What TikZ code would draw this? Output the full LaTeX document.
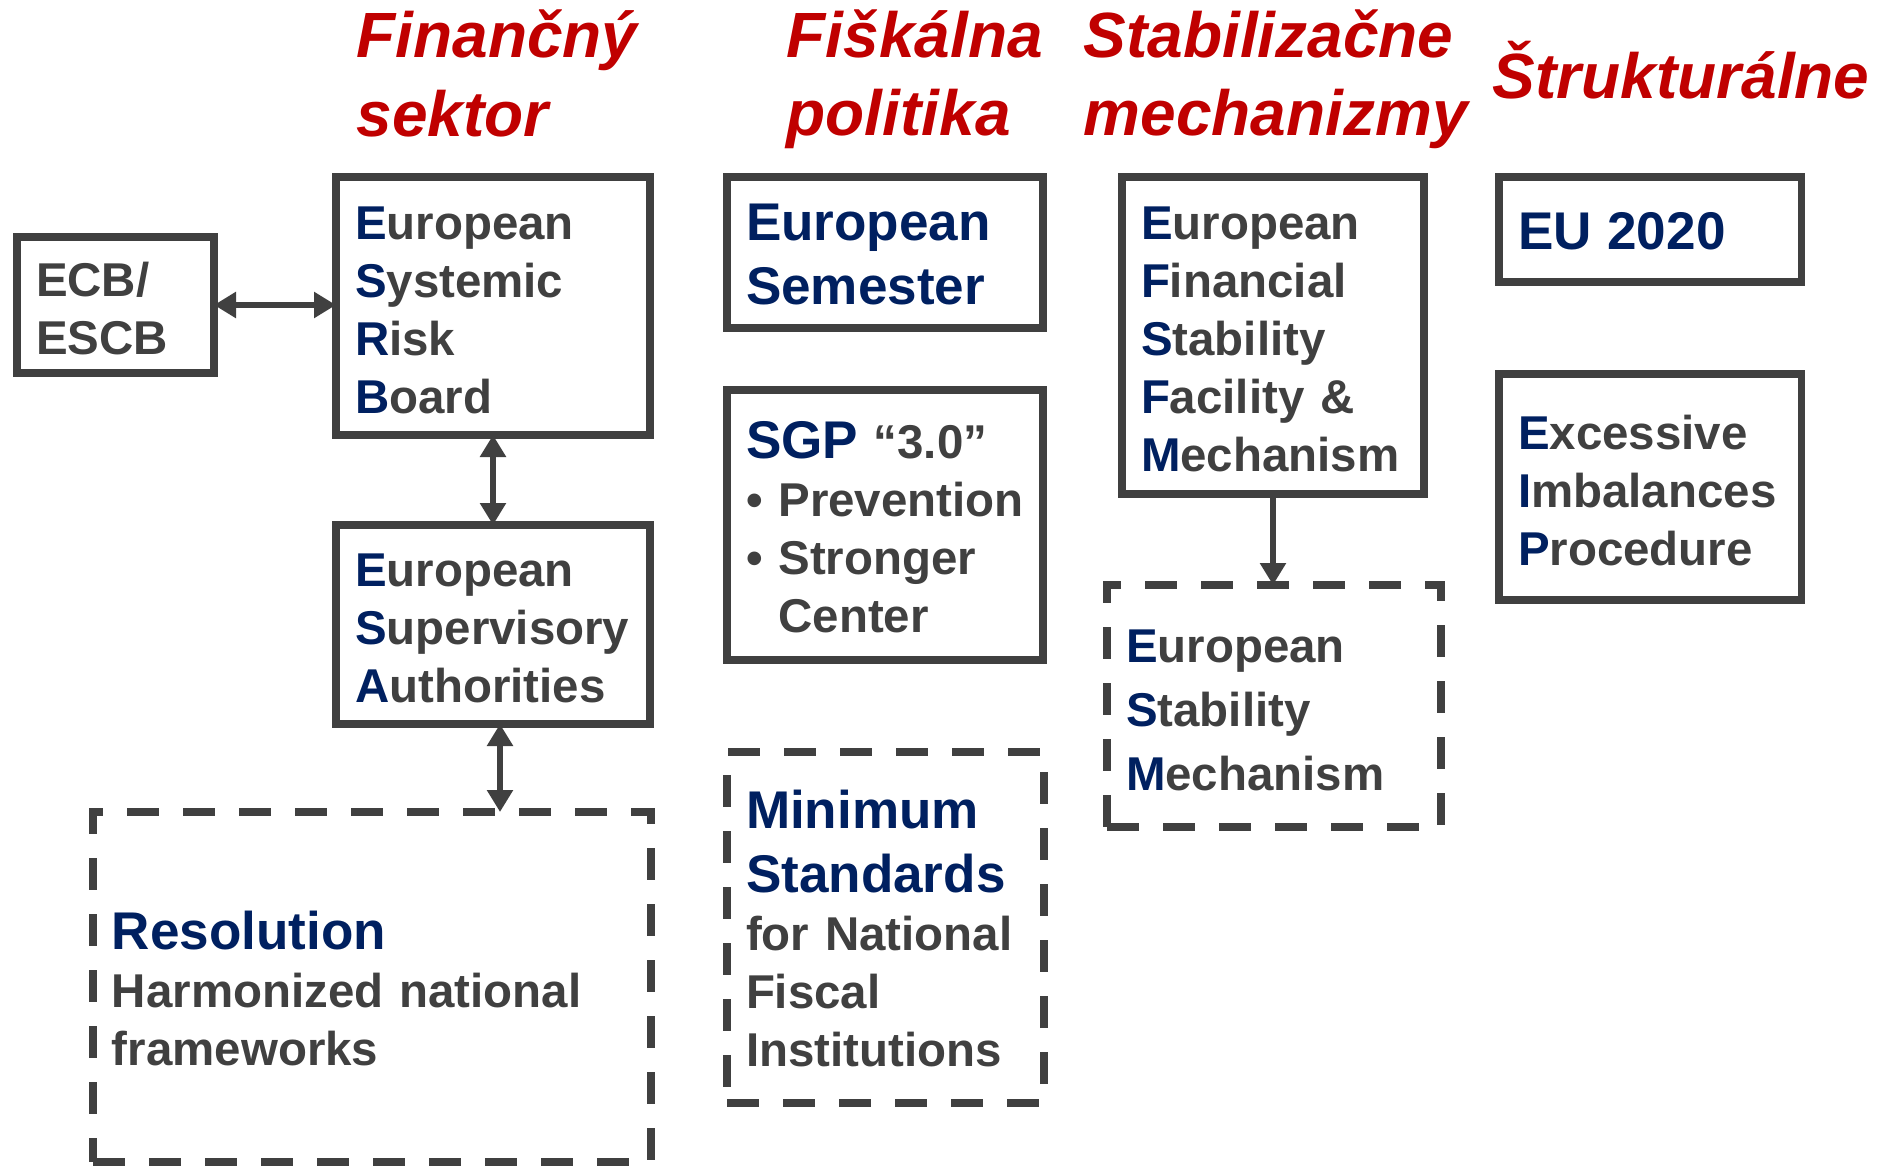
\documentclass[tikz,border=0pt]{standalone}
\usepackage{fontspec}
\setmainfont{Liberation Sans}
\usepackage{tikz}
\usetikzlibrary{arrows.meta,positioning}
\definecolor{dgray}{RGB}{64,64,64}
\definecolor{navy}{RGB}{0,32,96}
\definecolor{tred}{RGB}{192,0,0}
\newcommand{\ini}[1]{{\color{navy}#1}}
\newcommand{\hd}{\fontsize{15.1}{18.2}\selectfont\color{navy}}
\newcommand{\nm}{\fontsize{13.5}{16.5}\selectfont\color{dgray}}

\begin{document}
\begin{tikzpicture}[
box/.style 2 args={draw=dgray,line width=2pt,anchor=north west,outer sep=0pt,inner xsep=0.19cm,inner ysep=0pt,
  minimum width=#1cm,minimum height=#2cm,text width=#1cm-0.38cm,align=left,text=dgray,font=\nm\bfseries,
  execute at begin node={\rule{0pt}{11.7pt}}},
dbox/.style 2 args={box={#1}{#2},dash pattern=on 0.32cm off 0.24cm},
title/.style={anchor=base west,inner sep=0pt,text width=4cm,align=left,text=tred,
  font=\fontsize{18.2}{22.2}\selectfont\bfseries\itshape},
>={Triangle[length=0.22cm,width=0.25cm]},
twoway/.style={<->,draw=dgray,line width=1.7pt},
oneway/.style={->,draw=dgray,line width=1.7pt}]
    \useasboundingbox (0,0) rectangle (18.9,-11.66);

    % Column titles
    \node[title] (tfin) at (3.56,-0.58) {Finančný\\sektor};
    \node[title] (tfis) at (7.86,-0.57) {Fiškálna\\politika};
    \node[title] (tstab) at (10.83,-0.57) {Stabilizačne\\mechanizmy};
    \node[title] (tstr) at (14.92,-0.98) {Štrukturálne};

    % Financial sector
    \node[box={1.97}{1.36}] (ecb) at (0.17,-2.37) {ECB/\\ESCB};
    \node[box={3.14}{2.58}] (esrb) at (3.36,-1.77) {\ini{E}uropean\\\ini{S}ystemic\\\ini{R}isk\\\ini{B}oard};
    \node[box={3.14}{1.99}] (esa) at (3.36,-5.25) {\ini{E}uropean\\\ini{S}upervisory\\\ini{A}uthorities};
    \node[dbox={5.58}{3.50}] (res) at (0.93,-8.12) {\hd Resolution\\\nm Harmonized national\\frameworks};

    % Fiscal policy
    \node[box={3.16}{1.51}] (sem) at (7.27,-1.77) {\hd European\\\hd Semester\par};
    \node[box={3.16}{2.70}] (sgp) at (7.27,-3.90) {{\hd SGP} “3.0”\\\textbullet\ Prevention\\\textbullet\ Stronger\\\phantom{\textbullet\ }Center};
    \node[dbox={3.17}{3.51}] (mins) at (7.27,-7.52) {\hd Minimum\\\hd Standards\\\nm for National\\Fiscal\\Institutions};

    % Stabilization mechanisms
    \node[box={3.02}{3.17}] (efsf) at (11.22,-1.77) {\ini{E}uropean\\\ini{F}inancial\\\ini{S}tability\\\ini{F}acility \&\\\ini{M}echanism};
    \node[dbox={3.34}{2.42}] (esm) at (11.07,-5.85) {\ini{E}uropean\\[1.8pt]\ini{S}tability\\[1.8pt]\ini{M}echanism};

    % Structural
    \node[box={3.02}{1.05}] (eu) at (14.99,-1.77) {\hd EU 2020};
    \node[box={3.02}{2.26}] (eip) at (14.99,-3.74) {\ini{E}xcessive\\\ini{I}mbalances\\\ini{P}rocedure};

    % Links
    \draw[twoway] (ecb.east) -- (ecb.east -| esrb.west);
    \draw[twoway] (esrb.south) -- (esa.north);
    \draw[twoway] ([xshift=0.07cm]esa.south) -- ([xshift=0.07cm]esa.south |- res.north);
    \draw[oneway] (efsf.south) -- (efsf.south |- esm.north);
\end{tikzpicture}
\end{document}
